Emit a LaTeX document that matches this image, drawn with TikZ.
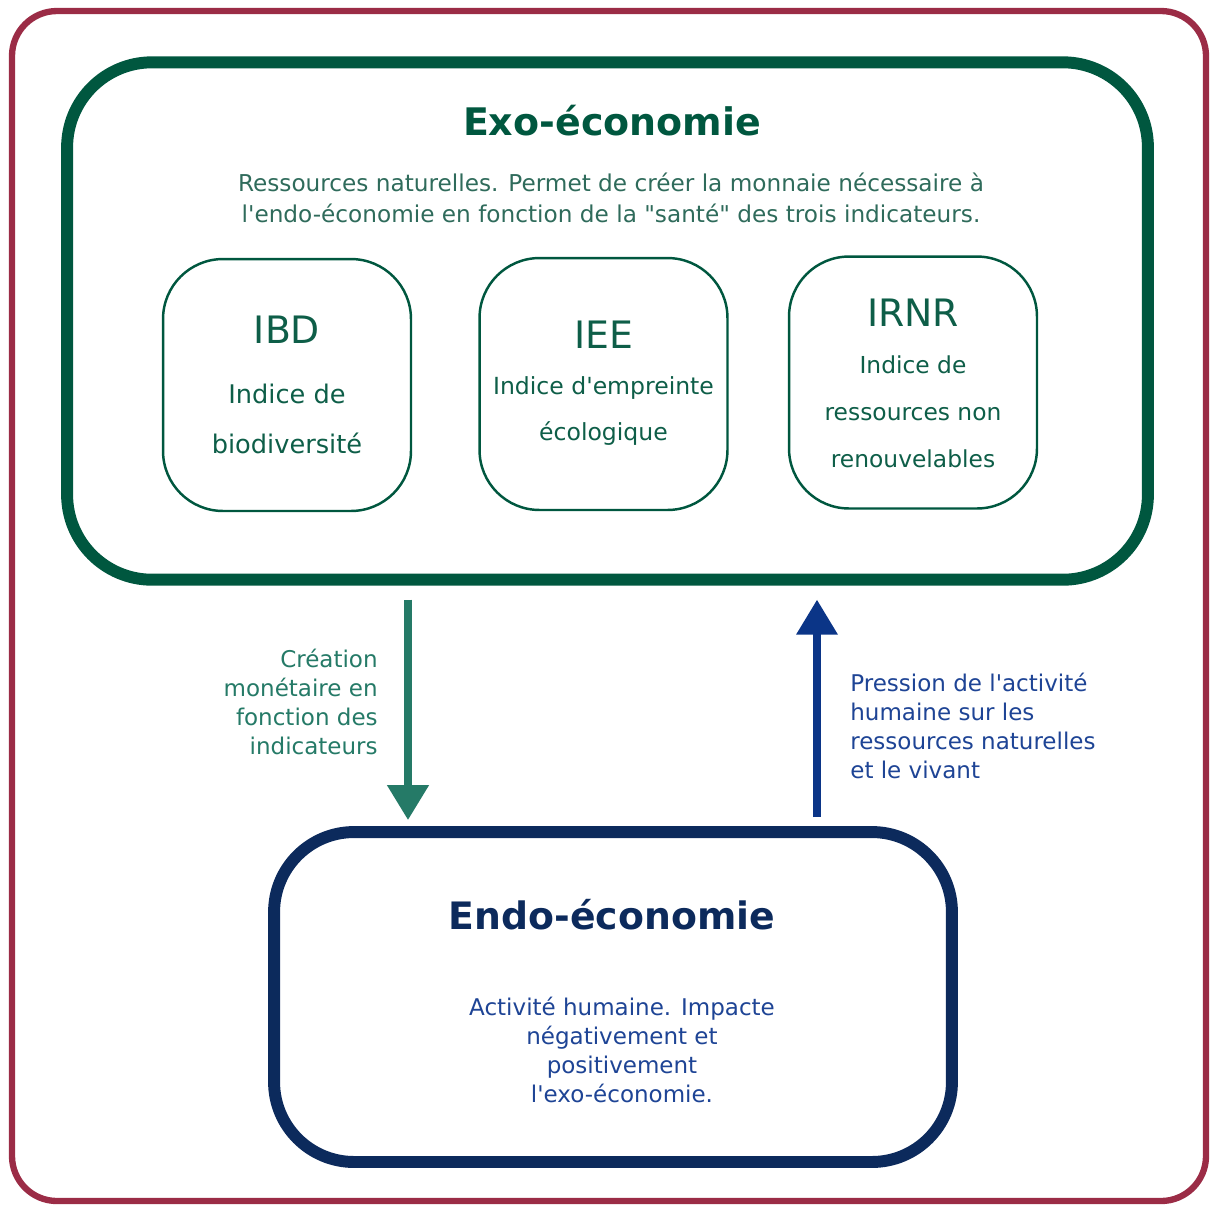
\documentclass[tikz,border=0pt]{standalone}
\usepackage{fontspec}
\setmainfont{DejaVu Sans}
\usetikzlibrary{arrows.meta,positioning}

\definecolor{frameRed}{HTML}{9B2C46}
\definecolor{exoGreen}{HTML}{00573F}
\definecolor{exoText}{HTML}{2F6B5B}
\definecolor{idxText}{HTML}{0E5E48}
\definecolor{arrowGreen}{HTML}{257A67}
\definecolor{endoBlue}{HTML}{0C2A5C}
\definecolor{arrowBlue}{HTML}{0B3587}
\definecolor{endoText}{HTML}{1E4495}

\newcommand{\sq}{\textquotesingle}
\newcommand{\dq}{\textquotedbl}

\tikzset{
  bigbox/.style={draw, line width=6.8pt, inner sep=0pt},
  idxbox/.style={draw=exoGreen, line width=1.4pt, rounded corners=1.2cm,
    minimum width=4.96cm, minimum height=5.04cm, inner sep=0pt},
  idxname/.style={text=idxText, font=\fontsize{21.5pt}{26pt}\selectfont},
  idxlabel/.style={text=idxText, align=center, font=\fontsize{13.3pt}{26.7pt}\selectfont},
  flow/.style={line width=4.4pt, -{Triangle[length=0.7cm, width=0.8cm]}},
  flowlabel/.style={inner sep=0pt, font=\fontsize{13.1pt}{16.4pt}\selectfont},
}

\begin{document}
\begin{tikzpicture}[x=0.02cm, y=-0.02cm]
        \useasboundingbox (0,0) rectangle (1213,1205);

        % Outer frame
        \draw[frameRed, line width=3.6pt, rounded corners=0.9cm] (12,11) rectangle (1206,1201);

        % Exo-economie box
        \node[bigbox, draw=exoGreen, rounded corners=1.7cm,
              minimum width=21.62cm, minimum height=10.35cm] (exo) at (607.5,321) {};
        \node[text=exoGreen, font=\fontsize{21.6pt}{26pt}\selectfont\bfseries] (exotitle) at (612,121) {Exo-économie};
        \node[text=exoText, align=center, font=\fontsize{13.2pt}{17.6pt}\selectfont] (exodesc) at (611,198)
          {Ressources naturelles. Permet de créer la monnaie nécessaire à\\
           l\sq endo-économie en fonction de la \dq santé\dq{} des trois indicateurs.};

        % Indicators
        \node[idxbox] (ibd) at (287,385) {};
        \node[idxname] (ibdname) at (287,330) {IBD};
        \node[idxlabel, font=\fontsize{14.6pt}{28.4pt}\selectfont] (ibdtext) at (287,419) {Indice de\\biodiversité};

        \node[idxbox] (iee) at (603.5,384) {};
        \node[idxname] (ieename) at (603.5,335) {IEE};
        \node[idxlabel, font=\fontsize{13.4pt}{26pt}\selectfont] (ieetext) at (603.5,411) {Indice d\sq empreinte\\écologique};

        \node[idxbox] (irnr) at (913,382.5) {};
        \node[idxname] (irnrname) at (913,313) {IRNR};
        \node[idxlabel] (irnrtext) at (913,412) {Indice de\\ressources non\\renouvelables};

        % Endo-economie box
        \node[bigbox, draw=endoBlue, rounded corners=1.6cm,
              minimum width=13.56cm, minimum height=6.6cm] (endo) at (613,997) {};
        \node[text=endoBlue, font=\fontsize{21.5pt}{26pt}\selectfont\bfseries] (endotitle) at (612,915) {Endo-économie};
        \node[text=endoText, align=center, font=\fontsize{13.1pt}{16.4pt}\selectfont] (endodesc) at (622,1050)
          {Activité humaine. Impacte\\négativement et\\positivement\\l\sq exo-économie.};

        % Arrows between the two economies
        \coordinate (down) at (408,0);
        \coordinate (up) at (817,0);
        \draw[flow, arrowGreen, shorten <=0.28cm, shorten >=0.12cm] (exo.south -| down) -- (endo.north -| down);
        \draw[flow, arrowBlue, line width=4pt, shorten <=0.18cm, shorten >=0.28cm] (endo.north -| up) -- (exo.south -| up);

        % Arrow labels
        \node[flowlabel, anchor=east, align=right, text=arrowGreen] (creation) at (378,702)
          {Création\\monétaire en\\fonction des\\indicateurs};
        \node[flowlabel, anchor=west, align=left, text=endoText] (pression) at (850,726)
          {Pression de l\sq activité\\humaine sur les\\ressources naturelles\\et le vivant};
\end{tikzpicture}
\end{document}
